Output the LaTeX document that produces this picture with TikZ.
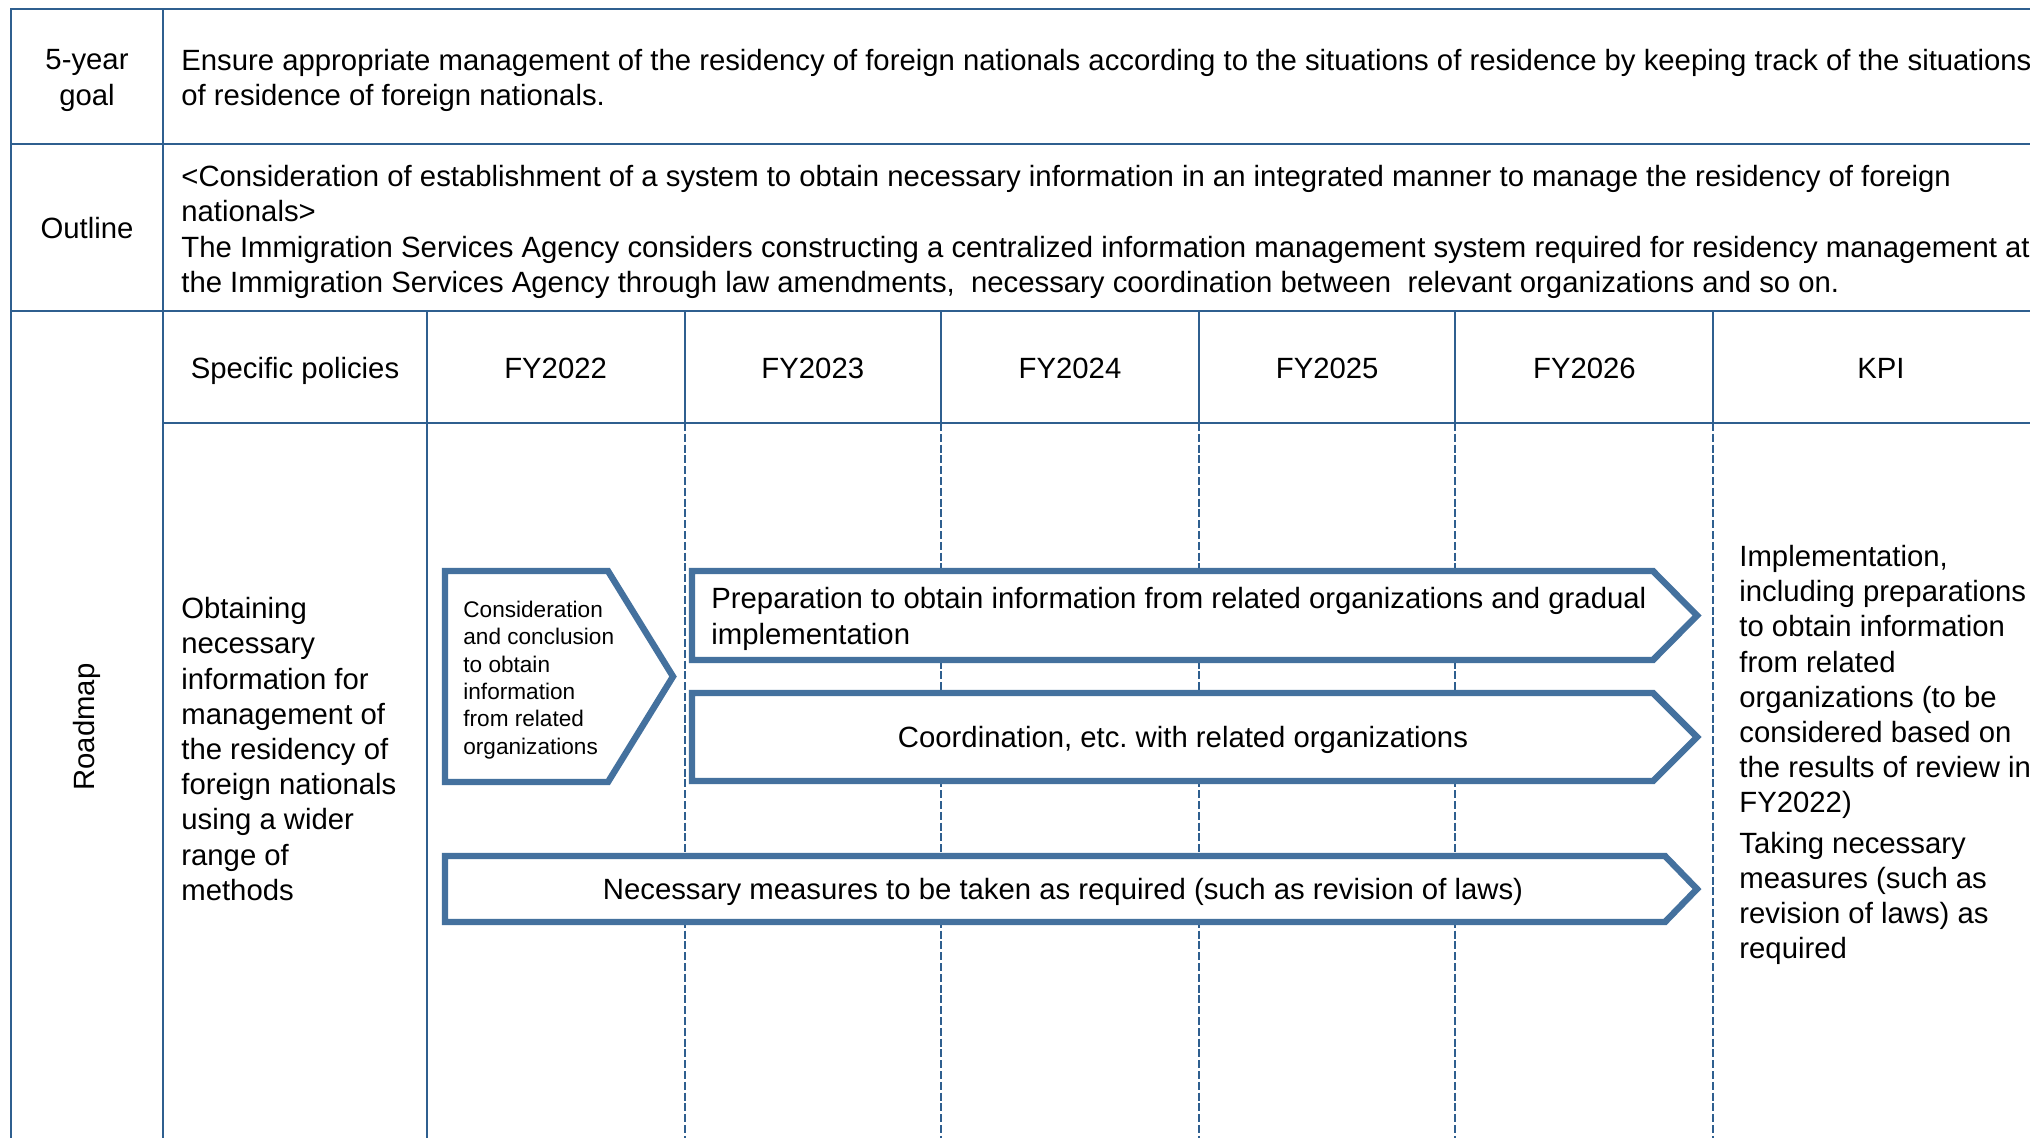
\documentclass[tikz,border=0pt]{standalone}
\usepackage{fontspec}
\setmainfont{Liberation Sans}
\usepackage{tikz}
\usetikzlibrary{positioning}
\definecolor{tablecol}{HTML}{2F5F8F}
\definecolor{barcol}{HTML}{44719E}
\newcommand\bigtxt{\fontsize{14.65}{17.6}\selectfont}
\newcommand\smalltxt{\fontsize{11.3}{13.65}\selectfont}
\frenchspacing
\tikzset{
	tabline/.style={draw=tablecol, line width=1.3pt},
	tabdash/.style={tabline, dash pattern=on 4pt off 1.4pt},
	stepbar/.style={draw=barcol, line width=3.2pt, fill=white},
	celltext/.style={font=\bigtxt, inner sep=0pt, align=left},
	bartext/.style={font=\smalltxt, inner sep=0pt, align=left},
}

\begin{document}
\begin{tikzpicture}[x=0.5pt, y=-0.5pt]
	\clip (0,0) rectangle (2030,1137);
	\fill[white] (0,0) rectangle (2030,1137);
	% table frame
	\draw[tabline] (2040,9)--(11,9)--(11,1140);
	\draw[tabline] (163,9)--(163,1140);
	\draw[tabline] (11,144)--(2040,144);
	\draw[tabline] (11,311)--(2040,311);
	\draw[tabline] (163,423)--(2040,423);
	\draw[tabline] (427,311)--(427,1140);
	\foreach \x in {685,941,1199,1455,1713}
		\draw[tabline] (\x,311)--(\x,423);
	\foreach \x in {685,941,1199,1455,1713}
		\draw[tabdash] (\x,423)--(\x,1140);
	% first rows
	\node[celltext, align=center] (goallbl) at (87,80.5) {5-year\\goal};
	\node[celltext, anchor=west] (goaltxt) at (181,80.5) {Ensure appropriate management of the residency of foreign nationals according to the situations of residence by keeping track of the situations\\of residence of foreign nationals.};
	\node[celltext] (outlinelbl) at (87,228) {Outline};
	\node[celltext, anchor=west] (outlinetxt) at (181,232) {<Consideration of establishment of a system to obtain necessary information in an integrated manner to manage the residency of foreign\\nationals>\\The Immigration Services Agency considers constructing a centralized information management system required for residency management at\\the Immigration Services Agency through law amendments,~~necessary coordination between~~relevant organizations and so on.};
	\node[celltext, rotate=90] (roadmaplbl) at (87,727) {Roadmap};
	% header
	\node[celltext] (policyhd) at (295,371) {Specific policies};
	\foreach \yr [count=\i] in {2022,2023,2024,2025,2026}
		\node[celltext] (fy\yr) at ({427+257.2*(\i-1)+128.6},368) {FY\yr};
	\node[celltext] (kpihd) at (1881,368) {KPI};
	% roadmap body
	\node[celltext, anchor=west] (policy) at (181,749) {Obtaining\\necessary\\information for\\management of\\the residency of\\foreign nationals\\using a wider\\range of\\methods};
	\draw[stepbar] (445,571)--(608,571)--(673,676.5)--(608,782)--(445,782)--cycle;
	\node[bartext, anchor=west] (consider) at (463,680) {Consideration\\and conclusion\\to obtain\\information\\from related\\organizations};
	\draw[stepbar] (692,571)--(1653,571)--(1697,615.5)--(1653,660)--(692,660)--cycle;
	\node[celltext, anchor=west] (prepare) at (711,619) {Preparation to obtain information from related organizations and gradual\\implementation};
	\draw[stepbar] (692,693)--(1653,693)--(1697,737)--(1653,781)--(692,781)--cycle;
	\node[celltext] (coord) at (1183,740) {Coordination, etc. with related organizations};
	\draw[stepbar] (445,856)--(1665,856)--(1697,889)--(1665,922)--(445,922)--cycle;
	\node[celltext] (measures) at (1063,892) {Necessary measures to be taken as required (such as revision of laws)};
	\node[celltext, anchor=west] (kpitxt) at (1739,755) {Implementation,\\including preparations\\to obtain information\\from related\\organizations (to be\\considered based on\\the results of review in\\FY2022)\\[2.5pt]Taking necessary\\measures (such as\\revision of laws) as\\required};
\end{tikzpicture}
\end{document}
